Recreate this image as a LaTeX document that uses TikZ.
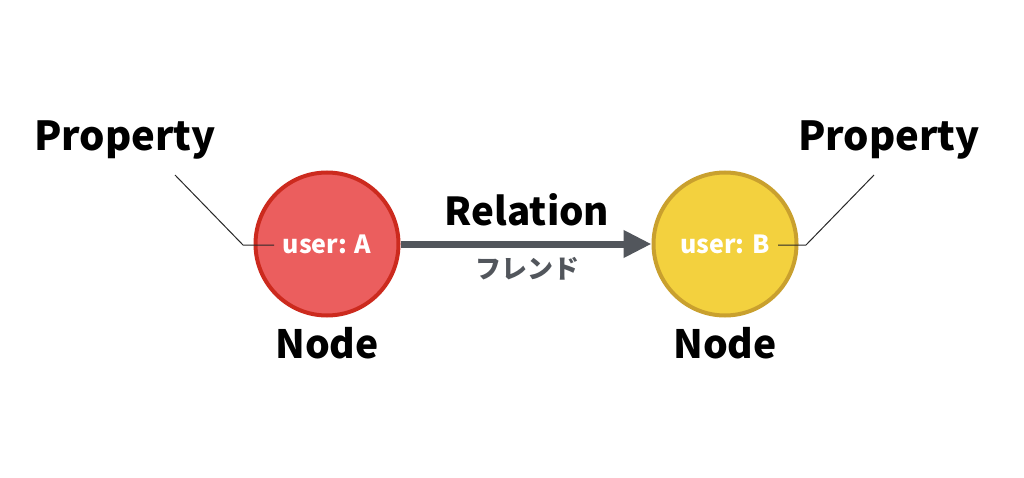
\documentclass[tikz,border=0pt]{standalone}
\usepackage{fontspec}
\setmainfont{Noto Sans CJK JP}
\definecolor{nodered}{RGB}{235, 94, 94}
\definecolor{edgered}{RGB}{204, 42, 30}
\definecolor{nodeyellow}{RGB}{243, 209, 62}
\definecolor{edgeyellow}{RGB}{201, 160, 46}
\definecolor{relgray}{RGB}{82, 86, 92}
\definecolor{leadgray}{RGB}{40, 40, 40}
\usetikzlibrary{arrows.meta, positioning, calc}

\begin{document}
\begin{tikzpicture}[x=1pt, y=-1pt]
  \useasboundingbox (0, 0) rectangle (1024, 478);

  % Graph nodes
  \node[circle, draw=edgered, line width=4pt, fill=nodered, minimum size=143pt, inner sep=0pt, text=white, font=\fontsize{25}{29}\selectfont\bfseries] (userA) at (327, 244) {user: A};
  \node[circle, draw=edgeyellow, line width=4pt, fill=nodeyellow, minimum size=143pt, inner sep=0pt, text=white, font=\fontsize{25}{29}\selectfont\bfseries] (userB) at (725, 244) {user: B};

  % Relation
  \draw[-{Triangle[length=28pt, width=26pt]}, line width=7pt, relgray] (userA.east) -- (userB.west);
  \node[font=\fontsize{38.5}{44}\selectfont\bfseries] (relation) at (527, 210) {Relation};
  \node[font=\fontsize{26}{30}\selectfont\bfseries, text=relgray] (friend) at (527, 269) {フレンド};

  % Labels under the nodes
  \node[font=\fontsize{39}{45}\selectfont\bfseries] (labelA) at (327, 343) {Node};
  \node[font=\fontsize{39}{45}\selectfont\bfseries] (labelB) at (725, 343) {Node};

  % Properties
  \node[font=\fontsize{40}{46}\selectfont\bfseries] (propA) at (125, 140) {Property};
  \node[font=\fontsize{40}{46}\selectfont\bfseries] (propB) at (889, 140) {Property};
  \coordinate (tailA) at (175, 175);
  \coordinate (kneeA) at (243, 245);
  \coordinate (endA) at (274, 245);
  \coordinate (tailB) at (874, 175);
  \coordinate (kneeB) at (806, 245);
  \coordinate (endB) at (778, 245);
  \draw[leadgray, line width=1pt] (tailA) -- (kneeA) -- (endA);
  \draw[leadgray, line width=1pt] (tailB) -- (kneeB) -- (endB);
\end{tikzpicture}
\end{document}
